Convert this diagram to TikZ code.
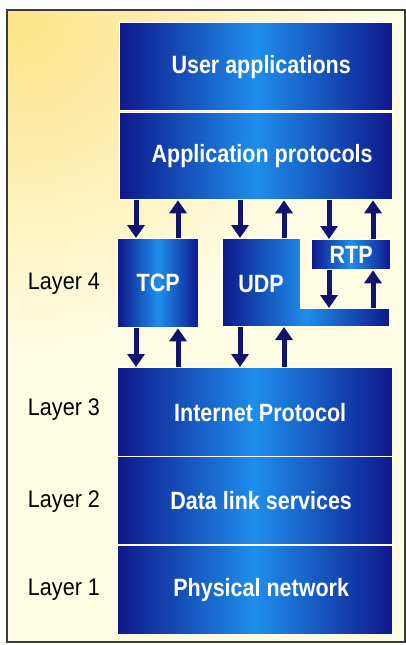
\documentclass[tikz,border=0pt]{standalone}
\usepackage{fontspec}
\setmainfont{Liberation Sans}
\newfontfamily\boxfont[FakeStretch=0.86]{Liberation Sans Bold}
\newfontfamily\labfont[FakeStretch=0.9]{Liberation Sans}
\usetikzlibrary{arrows.meta,calc}
\definecolor{navy}{RGB}{14,24,140}
\definecolor{bright}{RGB}{30,142,236}
\definecolor{arrowblue}{RGB}{16,20,110}
\definecolor{bgyellow}{RGB}{252,228,135}
\definecolor{bgcream}{RGB}{255,252,228}
\definecolor{framegray}{RGB}{60,60,60}
\tikzset{
  blueblock/.style={rectangle, left color=navy, right color=navy, middle color=bright,
    draw=white, line width=1.3pt, inner sep=0pt, anchor=north west},
  boxtext/.style={text=white, font=\boxfont\fontsize{25}{28}\selectfont},
  laytext/.style={text=black, font=\labfont\fontsize{24}{27}\selectfont},
  arr/.style={draw=arrowblue, line width=5pt, -{Triangle[length=13pt,width=17pt]}}
}
\begin{document}
\begin{tikzpicture}[x=1pt,y=-1pt]
\useasboundingbox (0,0) rectangle (406,645);
% background
\fill[bgcream] (7,10) rectangle (406,643);
\begin{scope}
  \clip (7,10) rectangle (406,643);
  \shade[inner color=bgyellow, outer color=bgcream] (20,20) circle (330pt);
\end{scope}
\draw[framegray, line width=1.2pt] (405,10) -- (7,10) -- (7,642) -- (405,642) -- cycle;
% layer boxes
\node[blueblock, minimum width=273pt, minimum height=88pt] (user) at (119,22) {};
\node[boxtext, xshift=5pt] at (user.center) {User applications};
\node[blueblock, minimum width=273pt, minimum height=87pt] (ap) at (119,112) {};
\node[boxtext, xshift=6pt] at (ap.center) {Application protocols};
\node[blueblock, minimum width=81pt, minimum height=89pt] (tcp) at (117,238) {};
\node[boxtext] at (tcp.center) {TCP};
% UDP L-shape
\path[left color=navy, right color=navy, middle color=bright, draw=white, line width=1.3pt]
  (222,238) -- (301,238) -- (301,308) -- (390,308) -- (390,327) -- (222,327) -- cycle;
\node[boxtext] (udp) at (261,284) {UDP};
\coordinate (udptop) at (261,238);
\coordinate (udpbar) at (350,308);
\coordinate (udpbottom) at (261,327);
\node[blueblock, minimum width=79pt, minimum height=30pt] (rtp) at (311,239) {};
\node[boxtext] at (rtp.center) {RTP};
\node[blueblock, minimum width=275pt, minimum height=89pt] (ip) at (117,367) {};
\node[boxtext, xshift=5pt] at (ip.center) {Internet Protocol};
\node[blueblock, minimum width=275pt, minimum height=88pt] (dl) at (117,456) {};
\node[boxtext, xshift=6pt] at (dl.center) {Data link services};
\node[blueblock, minimum width=275pt, minimum height=89pt] (phys) at (117,545) {};
\node[boxtext, xshift=6pt] at (phys.center) {Physical network};
% layer labels
\node[laytext] (l4) at (64,284) {Layer 4};
\node[laytext] (l3) at (64,410) {Layer 3};
\node[laytext] (l2) at (64,502) {Layer 2};
\node[laytext] (l1) at (64,590) {Layer 1};
% arrow x positions
\coordinate (x1) at (136,0);
\coordinate (x2) at (178,0);
\coordinate (x3) at (240,0);
\coordinate (x4) at (284,0);
\coordinate (x5) at (329,0);
\coordinate (x6) at (373,0);
% upper arrows
\draw[arr] (ap.south -| x1) -- (tcp.north -| x1);
\draw[arr] (tcp.north -| x2) -- (ap.south -| x2);
\draw[arr] (ap.south -| x3) -- (udptop -| x3);
\draw[arr] (udptop -| x4) -- (ap.south -| x4);
\draw[arr] (ap.south -| x5) -- (rtp.north -| x5);
\draw[arr] (rtp.north -| x6) -- (ap.south -| x6);
% RTP to UDP arrows
\draw[arr] (rtp.south -| x5) -- (udpbar -| x5);
\draw[arr] (udpbar -| x6) -- (rtp.south -| x6);
% lower arrows
\draw[arr] (tcp.south -| x1) -- (ip.north -| x1);
\draw[arr] (ip.north -| x2) -- (tcp.south -| x2);
\draw[arr] (udpbottom -| x3) -- (ip.north -| x3);
\draw[arr] (ip.north -| x4) -- (udpbottom -| x4);
\end{tikzpicture}
\end{document}
